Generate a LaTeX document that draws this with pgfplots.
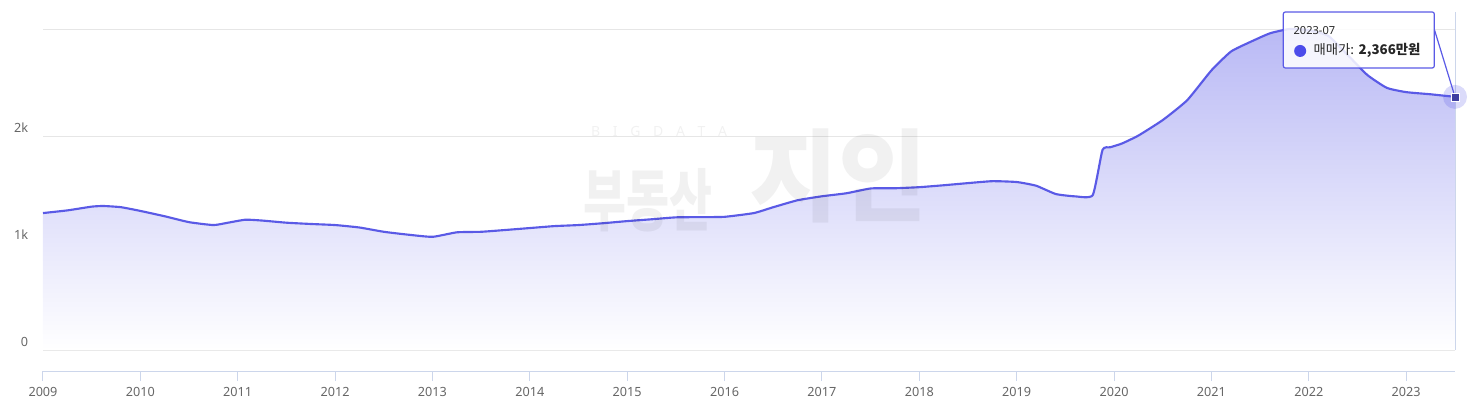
\documentclass[border=0pt]{standalone}
\usepackage{fontspec}
\setmainfont{Noto Sans}
\newfontfamily\kr{Noto Sans CJK KR}
\usepackage{pgfplots}
\pgfplotsset{compat=1.18}
\usepackage{pgfplotstable}

\definecolor{linec}{HTML}{5A5AE6}
\definecolor{fillc}{HTML}{B9B9F5}
\definecolor{gridc}{HTML}{E6E6E6}
\definecolor{axisc}{HTML}{CCD6EB}
\definecolor{labc}{HTML}{666666}

% price (10k KRW), by year
\pgfplotstableread{
x y
2009.00 1280
2009.25 1305
2009.50 1340
2009.62 1346
2009.80 1335
2010.00 1300
2010.25 1250
2010.50 1195
2010.75 1168
2010.90 1190
2011.08 1218
2011.25 1210
2011.50 1190
2011.75 1178
2012.00 1168
2012.25 1145
2012.50 1105
2012.75 1078
2013.00 1058
2013.25 1100
2013.50 1105
2013.75 1122
2014.00 1140
2014.25 1158
2014.50 1168
2014.75 1185
2015.00 1205
2015.25 1222
2015.50 1240
2015.75 1242
2016.00 1245
2016.30 1280
2016.50 1335
2016.75 1400
2017.00 1437
2017.25 1465
2017.50 1510
2017.75 1512
2018.00 1522
2018.25 1540
2018.50 1560
2018.75 1578
2019.00 1570
2019.20 1535
2019.40 1458
2019.60 1436
2019.78 1448
2019.88 1870
2019.96 1895
2020.08 1930
2020.25 2005
2020.50 2150
2020.75 2335
2021.00 2615
2021.20 2790
2021.40 2880
2021.60 2960
2021.80 3000
2022.00 2990
2022.20 2935
2022.40 2755
2022.60 2570
2022.80 2450
2023.00 2410
2023.25 2390
2023.50 2366
}\price

\begin{document}
\begin{tikzpicture}
\begin{axis}[
    name=ax,
    scale only axis,
    width=1059pt, height=269.25pt,
    xmin=2009, xmax=2023.5,
    ymin=-196, ymax=3159,
    axis x line*=bottom, axis y line*=left,
    x axis line style={draw=axisc, line width=0.75pt},
    y axis line style={draw=none},
    xtick={2009,...,2023},
    ytick={0,1000,2000,3000},
    yticklabels={0,1k,2k,},
    ymajorgrids,
    grid style={gridc, line width=0.75pt},
    tick align=outside,
    major tick length=7.5pt,
    xtick style={draw=axisc, line width=0.75pt},
    ytick style={draw=none},
    /pgf/number format/1000 sep={},
    /pgf/number format/assume math mode=true,
    tick label style={font=\fontsize{9.5}{11}\selectfont, text=labc},
    yticklabel style={anchor=east, inner sep=0pt, xshift=-3.5pt, yshift=6pt},
    xticklabel style={yshift=-1pt},
    clip=false,
]
\addplot[draw=none, shade, top color=fillc, bottom color=white, smooth, tension=0.3]
    table[x=x, y=y] {\price} \closedcycle;
\addplot[linec, line width=1.6pt, smooth, tension=0.3] table[x=x, y=y] {\price};
% crosshair
\draw[axisc, line width=0.75pt] (axis cs:2023.5,0) -- (axis cs:2023.5,3159);
% watermark
\node[text=black, opacity=0.055, font=\fontsize{10.5}{12}\selectfont, anchor=west]
    at (axis cs:2014.58,2040) {B\hspace{9.5pt}I\hspace{9.5pt}G\hspace{9.5pt}D\hspace{9.5pt}A\hspace{9.5pt}T\hspace{9.5pt}A};
\node[text=black, opacity=0.055, anchor=west, inner sep=0pt]
    at (axis cs:2014.55,1400) {\scalebox{1}[1.45]{\kr\bfseries\fontsize{35}{36}\selectfont 부동산}};
\node[text=black, opacity=0.055, anchor=west, inner sep=0pt]
    at (axis cs:2016.25,1630) {\scalebox{1.25}[1.3]{\kr\bfseries\fontsize{58}{60}\selectfont 지인}};
% halo and point
\addplot[only marks, mark=*, mark size=9pt, mark options={draw opacity=0, fill=linec, fill opacity=0.22}]
    coordinates {(2023.5,2366)};
\addplot[only marks, mark=square*, mark size=3pt, mark options={draw=white, fill=linec!70!black, line width=0.5pt}]
    coordinates {(2023.5,2366)};
% tooltip
\draw[linec, line width=0.9pt] (axis cs:2023.29,2990) -- (axis cs:2023.5,2366);
\draw[linec, line width=0.9pt, fill=white, fill opacity=0.85, rounded corners=1.5pt]
    (axis cs:2021.737,3159) rectangle (axis cs:2023.287,2636);
\node[anchor=west, inner sep=0pt, font=\fontsize{8.3}{9}\selectfont, text=black!85]
    at (axis cs:2021.84,2985) {2023-07};
\fill[linec!85!blue] (axis cs:2021.91,2795) circle[radius=4.5pt];
\node[anchor=west, inner sep=0pt, font=\fontsize{10}{11}\selectfont, text=black!85]
    at (axis cs:2022.045,2800) {{\kr 매매가:} {\kr\bfseries 2,366만원}};
\end{axis}
\pgfresetboundingbox
\path[use as bounding box] ([xshift=-32.25pt,yshift=-33.75pt]ax.south west) rectangle ([xshift=13.5pt,yshift=9pt]ax.north east);
\end{tikzpicture}
\end{document}
